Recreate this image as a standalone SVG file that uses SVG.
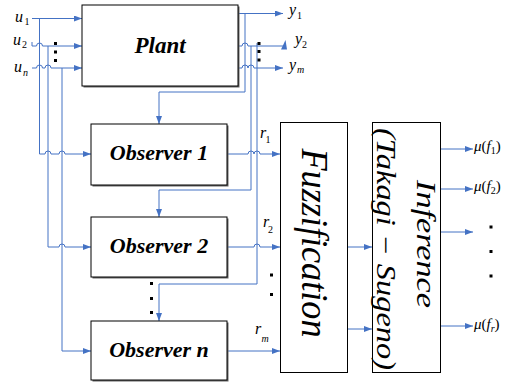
<svg xmlns="http://www.w3.org/2000/svg" width="510" height="383" viewBox="0 0 510 383">
<defs>
<marker id="ah" markerWidth="8" markerHeight="6" refX="8" refY="3" orient="auto" markerUnits="userSpaceOnUse"><path d="M0,0 L8,3 L0,6 z" fill="#4472C4"/></marker>
<style>
.box{fill:#fff;stroke:#000;stroke-width:1}
.sh{fill:#666}
.ln{fill:none;stroke:#4472C4;stroke-width:1}
.ar{marker-end:url(#ah)}
.nt{font-family:"Liberation Serif",serif;font-weight:bold;font-style:italic;text-anchor:middle;fill:#000}
.lb{font-family:"Liberation Serif",serif;font-style:italic;fill:#000}
.sb{font-family:"Liberation Serif",serif;font-style:normal;fill:#000}
.big{font-family:"Liberation Serif",serif;font-style:italic;text-anchor:middle;fill:#000}
.dot{fill:#000}
</style>
</defs>
<g id="connectors">
<path class="ln ar" d="M32,18.5 H82"/>
<path class="ln ar" d="M39.5,18.5 V154 H45 a3,3 0 0 1 6,0 H59 a3,3 0 0 1 6,0 H91"/>
<path class="ln ar" d="M32,42 V46 H36.5 a3,3 0 0 1 6,0 H82"/>
<path class="ln ar" d="M48,46 V247 H59 a3,3 0 0 1 6,0 H91"/>
<path class="ln ar" d="M32,68 H36.5 a3,3 0 0 1 6,0 H45 a3,3 0 0 1 6,0 H82"/>
<path class="ln ar" d="M62,68 V351 H91"/>
<path class="ln ar" d="M238,13.5 H283"/>
<path class="ln ar" d="M245,13.5 V92 H159 V124"/>
<path class="ln" d="M238,46 H242 a3,3 0 0 1 6,0 H286"/>
<polygon points="281,49.5 287,49.5 285.5,40" fill="#4472C4"/>
<path class="ln ar" d="M251,46 V190 H159 V217"/>
<path class="ln ar" d="M238,68 H242 a3,3 0 0 1 6,0 a3,3 0 0 1 6,0 H283"/>
<path class="ln ar" d="M257,43 V284 H159 V321"/>
<path class="ln ar" d="M227,154 H248 a3,3 0 0 1 6,0 a3,3 0 0 1 6,0 H280"/>
<path class="ln ar" d="M227,247 H254 a3,3 0 0 1 6,0 H280"/>
<path class="ln ar" d="M227,351 H280"/>
<path class="ln ar" d="M347,247 H372"/>
<path class="ln ar" d="M347,329 H372"/>
<path class="ln ar" d="M440,149 H473"/>
<path class="ln ar" d="M440,189 H473"/>
<path class="ln ar" d="M440,232 H473"/>
<path class="ln ar" d="M440,326 H473"/>
</g>
<g id="plant">
<rect class="sh" x="83.5" y="6.5" width="156" height="81"/>
<rect class="box" x="82" y="5" width="156" height="81"/>
<text class="nt" x="160" y="53" font-size="23">Plant</text>
</g>
<g id="observer1">
<rect class="sh" x="92.5" y="125.5" width="136" height="61"/>
<rect class="box" x="91" y="124" width="136" height="61"/>
<text class="nt" x="159" y="160" font-size="22">Observer 1</text>
</g>
<g id="observer2">
<rect class="sh" x="92.5" y="218.5" width="136" height="60"/>
<rect class="box" x="91" y="217" width="136" height="60"/>
<text class="nt" x="159" y="253" font-size="22">Observer 2</text>
</g>
<g id="observern">
<rect class="sh" x="92.5" y="322.5" width="136" height="59"/>
<rect class="box" x="91" y="321" width="136" height="59"/>
<text class="nt" x="159" y="357" font-size="22">Observer n</text>
</g>
<g id="fuzzification">
<rect class="box" x="280.5" y="122.5" width="67" height="250"/>
<text class="big" font-size="37" transform="translate(302,243) rotate(90)" textLength="189" lengthAdjust="spacingAndGlyphs">Fuzzification</text>
</g>
<g id="inference">
<rect class="box" x="372.5" y="122.5" width="68" height="250"/>
<text class="big" font-size="27" transform="translate(417,244) rotate(90)" textLength="128" lengthAdjust="spacingAndGlyphs">Inference</text>
<text class="big" font-size="27" transform="translate(377,249) rotate(90)" textLength="242" lengthAdjust="spacingAndGlyphs">(Takagi − Sugeno)</text>
</g>
<g id="labels">
<text class="lb" x="15" y="22" font-size="16">u</text><text class="sb" x="24.5" y="25" font-size="10">1</text>
<text class="lb" x="13" y="45" font-size="16">u</text><text class="sb" x="22" y="47.5" font-size="10">2</text>
<text class="lb" x="14" y="72" font-size="16">u</text><text class="lb" x="23" y="76" font-size="10">n</text>
<text class="lb" x="289" y="15" font-size="16">y</text><text class="sb" x="297" y="18.5" font-size="10">1</text>
<text class="lb" x="295" y="44" font-size="16">y</text><text class="sb" x="302" y="48" font-size="10">2</text>
<text class="lb" x="289" y="70" font-size="16">y</text><text class="lb" x="297" y="72.5" font-size="10">m</text>
<text class="lb" x="260" y="138" font-size="16">r</text><text class="sb" x="265.5" y="143" font-size="10">1</text>
<text class="lb" x="263" y="227" font-size="16">r</text><text class="sb" x="268" y="233" font-size="10">2</text>
<text class="lb" x="255" y="334" font-size="16">r</text><text class="lb" x="261.5" y="342" font-size="10">m</text>
<text class="sb" x="474" y="151" font-size="15"><tspan class="lb">μ</tspan>(<tspan class="lb">f</tspan><tspan dy="3" font-size="10">1</tspan><tspan dy="-3">)</tspan></text>
<text class="sb" x="474" y="191" font-size="15"><tspan class="lb">μ</tspan>(<tspan class="lb">f</tspan><tspan dy="3" font-size="10">2</tspan><tspan dy="-3">)</tspan></text>
<text class="sb" x="474" y="329" font-size="15"><tspan class="lb">μ</tspan>(<tspan class="lb">f</tspan><tspan class="lb" dy="3" font-size="10">r</tspan><tspan dy="-3">)</tspan></text>
</g>
<g id="dots">
<rect class="dot" x="54" y="42" width="3" height="3"/>
<rect class="dot" x="54" y="50.5" width="3" height="3"/>
<rect class="dot" x="54" y="59" width="3" height="3"/>
<rect class="dot" x="257.5" y="42" width="3" height="3"/>
<rect class="dot" x="257.5" y="50" width="3" height="3"/>
<rect class="dot" x="257.5" y="58.5" width="3" height="3"/>
<rect class="dot" x="150" y="282" width="3" height="3"/>
<rect class="dot" x="150" y="297" width="3" height="3"/>
<rect class="dot" x="150" y="311" width="3" height="3"/>
<rect class="dot" x="270" y="273.5" width="3" height="3"/>
<rect class="dot" x="270" y="293" width="3" height="3"/>
<rect class="dot" x="489.5" y="225.5" width="3" height="3"/>
<rect class="dot" x="489.5" y="250" width="3" height="3"/>
<rect class="dot" x="489.5" y="274.5" width="3" height="3"/>
</g>
</svg>
